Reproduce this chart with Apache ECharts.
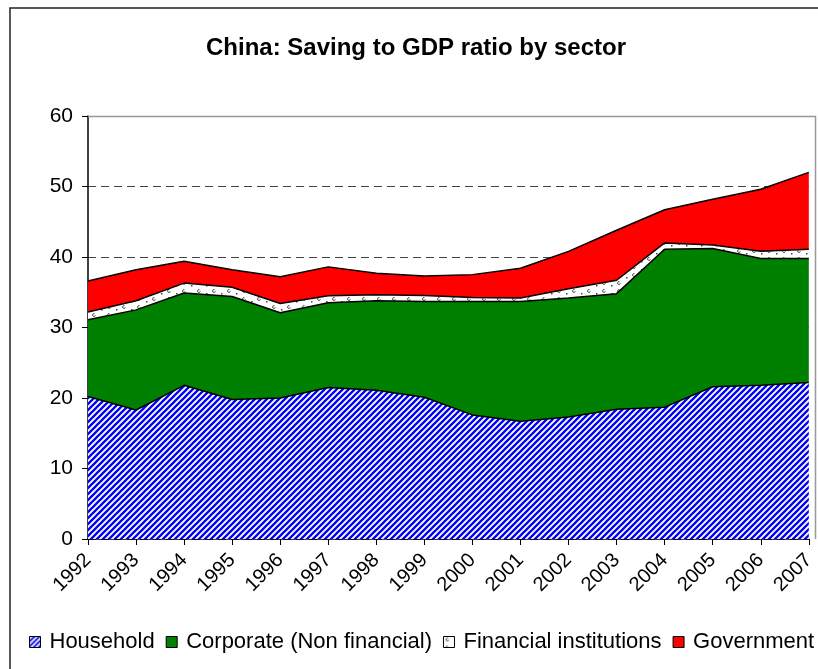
<!DOCTYPE html>
<html>
<head>
<meta charset="utf-8">
<script src="https://cdn.jsdelivr.net/npm/echarts@6/dist/echarts.min.js"></script>
<style>
  html, body { margin: 0; padding: 0; background: #fff; }
  #chart { width: 818px; height: 669px; }
</style>
</head>
<body>
<div id="chart"></div>
<script>
// Saving as % of GDP, by sector (stacked)
const years = ['1992', '1993', '1994', '1995', '1996', '1997', '1998', '1999',
               '2000', '2001', '2002', '2003', '2004', '2005', '2006', '2007'];
const household  = [20.2, 18.3, 21.8, 19.8, 20.0, 21.5, 21.1, 20.1, 17.6, 16.7, 17.3, 18.4, 18.7, 21.6, 21.8, 22.2];
const corporate  = [10.9, 14.2, 13.1, 14.6, 12.1, 12.0, 12.7, 13.6, 16.1, 17.0, 16.9, 16.4, 22.4, 19.6, 18.0, 17.6];
const financial  = [1.1, 1.3, 1.4, 1.3, 1.3, 1.0, 0.85, 0.85, 0.55, 0.5, 1.3, 1.9, 0.9, 0.5, 1.0, 1.3];
const government = [4.4, 4.4, 3.1, 2.5, 3.8, 4.1, 3.05, 2.75, 3.25, 4.2, 5.3, 7.1, 4.7, 6.5, 8.8, 10.9];
const yTicks = { min: 0, max: 60, step: 10 };
const seriesNames = ['Household', 'Corporate (Non financial)', 'Financial institutions', 'Government'];

const FONT = '"Liberation Sans", Arial, sans-serif';

// Blue/white diagonal hatching
function stripeTile(size, width) {
  const c = document.createElement('canvas');
  c.width = size; c.height = size;
  const g = c.getContext('2d');
  g.fillStyle = '#ffffff';
  g.fillRect(0, 0, size, size);
  g.strokeStyle = '#0000ff';
  g.lineWidth = width;
  g.beginPath();
  g.moveTo(-1, size + 1); g.lineTo(size + 1, -1);
  g.moveTo(-2, 2); g.lineTo(2, -2);
  g.moveTo(size - 2, size + 2); g.lineTo(size + 2, size - 2);
  g.stroke();
  return c;
}

// White fill with small scattered specks
function speckTile() {
  const c = document.createElement('canvas');
  c.width = 15; c.height = 8;
  const g = c.getContext('2d');
  g.fillStyle = '#ffffff';
  g.fillRect(0, 0, 15, 8);
  g.strokeStyle = '#333333';
  g.lineWidth = 1;
  g.beginPath();
  g.arc(4, 3, 1.4, 0.3, Math.PI * 1.6);
  g.stroke();
  g.fillStyle = '#444444';
  g.fillRect(11, 5, 1.5, 1.5);
  return c;
}

const hatch = { image: stripeTile(6, 2.3), repeat: 'repeat' };
const hatchIcon = { image: stripeTile(5, 1.8), repeat: 'repeat' };
const specks = { image: speckTile(), repeat: 'repeat' };

const fills = [hatch, '#008000', specks, '#ff0000'];
const legendFills = [hatchIcon, '#008000', specks, '#ff0000'];
const values = [household, corporate, financial, government];

const chart = echarts.init(document.getElementById('chart'), null, { renderer: 'canvas' });

chart.setOption({
  animation: false,
  backgroundColor: '#ffffff',
  textStyle: { fontFamily: FONT },
  grid: { left: 88, top: 116, right: 2, bottom: 130, containLabel: false },
  legend: {
    left: 24,
    top: 626,
    width: 900,
    icon: 'rect',
    itemWidth: 11,
    itemHeight: 11,
    itemGap: 11,
    textStyle: { fontSize: 22, color: '#000', fontFamily: FONT, padding: [0, 0, 0, 4] },
    data: seriesNames.map((n, i) => ({
      name: n,
      itemStyle: { color: legendFills[i], borderColor: '#000', borderWidth: 1 }
    }))
  },
  xAxis: {
    type: 'category',
    boundaryGap: false,
    data: years,
    axisLine: { lineStyle: { color: '#000', width: 1.5 } },
    axisTick: { show: true, length: 6, lineStyle: { color: '#000', width: 1 } },
    axisLabel: { rotate: 45, fontSize: 20, color: '#000', margin: 18, fontFamily: FONT, interval: 0 },
    splitLine: { show: false }
  },
  yAxis: {
    type: 'value',
    min: yTicks.min,
    max: yTicks.max,
    interval: yTicks.step,
    axisLine: { show: true, lineStyle: { color: '#000', width: 1.5 } },
    axisTick: { show: true, length: 6, lineStyle: { color: '#000', width: 1 } },
    axisLabel: { fontSize: 21, color: '#000', margin: 15, fontFamily: FONT },
    splitLine: { show: true, lineStyle: { color: '#444', width: 1, type: [8, 5] } }
  },
  series: seriesNames.map((n, i) => ({
    name: n,
    type: 'line',
    stack: 'saving',
    data: values[i],
    symbol: 'none',
    z: 2,
    lineStyle: { color: '#000', width: 1.5 },
    itemStyle: { color: typeof fills[i] === 'string' ? fills[i] : (i === 0 ? '#0000ff' : '#ffffff') },
    areaStyle: { color: fills[i], opacity: 1 }
  })),
  graphic: [
    {
      type: 'rect', z: 100, silent: true,
      shape: { x: 10, y: 8, width: 900, height: 800 },
      style: { fill: null, stroke: '#222', lineWidth: 1.5 }
    },
    {
      type: 'polyline', z: 100, silent: true,
      shape: { points: [[88, 116.5], [815.5, 116.5], [815.5, 539]] },
      style: { fill: null, stroke: '#999', lineWidth: 1.5 }
    },
    {
      type: 'text', z: 100,
      style: {
        x: 416, y: 48,
        text: 'China: Saving to GDP ratio by sector',
        fill: '#000',
        font: 'bold 24px ' + FONT,
        textAlign: 'center',
        textVerticalAlign: 'middle'
      }
    }
  ]
});
</script>
</body>
</html>
